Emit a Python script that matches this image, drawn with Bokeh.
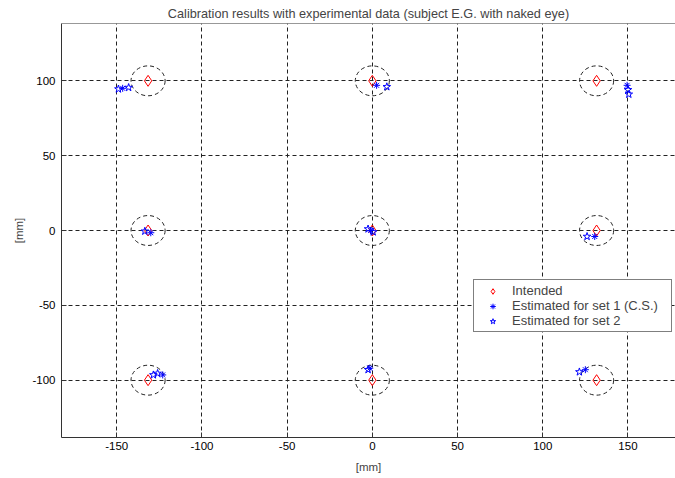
from bokeh.plotting import figure
from bokeh.models import Span, Legend, LegendItem, FixedTicker
from bokeh.embed import file_html
from bokeh.resources import INLINE

# ---- data ----
intended_x = [-131.6, 0.0, 131.6, -131.6, 0.0, 131.6, -131.6, 0.0, 131.6]
intended_y = [100, 100, 100, 0, 0, 0, -100, -100, -100]

set1_x = [-146.5, 2.5, 149.5, -130.0, -1.0, 130.5, -123.0, -1.5, 125.0]
set1_y = [95.0, 97.0, 97.0, -1.5, 0.0, -4.0, -96.5, -92.0, -93.0]

set2_x = [-149.0, -143.0, 8.5, 150.0, 150.5, -133.5, -2.5, 0.5, 126.0, -128.5, -126.0, -2.5, 121.5]
set2_y = [94.5, 95.5, 96.0, 94.0, 91.0, -0.5, 1.0, -1.0, -4.0, -96.5, -95.5, -93.0, -94.5]

x_ticks = [-150, -100, -50, 0, 50, 100, 150]
y_ticks = [-100, -50, 0, 50, 100]

FONT = "Liberation Sans"
AX = "#333333"

p = figure(width=675, height=478, x_range=(-182.4, 177.9), y_range=(-138.3, 138.3),
           output_backend="svg", toolbar_location=None,
           min_border_left=61, min_border_right=0, min_border_top=23, min_border_bottom=41,
           title="Calibration results with experimental data (subject E.G. with naked eye)")
p.title.align = "center"
p.title.vertical_align = "top"
p.title.text_font = FONT
p.title.text_font_size = "12.7px"
p.title.text_font_style = "normal"
p.title.standoff = 2
p.title.offset = 0
p.outline_line_color = None
p.background_fill_color = "white"
p.border_fill_color = "white"

p.xaxis.ticker = FixedTicker(ticks=x_ticks)
p.yaxis.ticker = FixedTicker(ticks=y_ticks)
p.xaxis.major_label_overrides = {t: str(t) for t in x_ticks}
p.yaxis.major_label_overrides = {t: str(t) for t in y_ticks}
for ax in (p.xaxis[0], p.yaxis[0]):
    ax.axis_line_color = AX
    ax.major_tick_line_color = AX
    ax.major_tick_in = 5
    ax.major_tick_out = 0
    ax.minor_tick_line_color = None
    ax.major_label_text_font = FONT
    ax.major_label_text_font_size = "11.5px"
    ax.major_label_text_color = "black"
    ax.axis_label = "[mm]"
    ax.axis_label_text_font = FONT
    ax.axis_label_text_font_size = "11.5px"
    ax.axis_label_text_font_style = "normal"
p.xaxis.major_label_standoff = 4
p.xaxis.axis_label_standoff = 8
p.yaxis.major_label_standoff = 6
p.yaxis.axis_label_standoff = 4

for g in (p.xgrid[0], p.ygrid[0]):
    g.grid_line_color = "#222222"
    g.grid_line_dash = "4 3"
    g.grid_line_width = 1
p.xgrid.ticker = FixedTicker(ticks=x_ticks)
p.ygrid.ticker = FixedTicker(ticks=y_ticks)

p.add_layout(Span(location=138.3, dimension="width", line_color=AX, line_width=1))

# dashed circles around targets
p.ellipse(x=intended_x, y=intended_y, width=20, height=20, fill_color=None,
          line_color="#222222", line_dash="4 3", line_width=1)

r1 = p.scatter(intended_x, intended_y, marker="diamond", size=11, fill_color=None,
               line_color="red", line_width=1)
r2 = p.scatter(set1_x, set1_y, marker="asterisk", size=7, line_color="blue", line_width=1)
r3 = p.scatter(set2_x, set2_y, marker="star", size=8, fill_color=None,
               line_color="blue", line_width=1)

legend = Legend(items=[LegendItem(label="Intended", renderers=[r1]),
                       LegendItem(label="Estimated for set 1 (C.S.)", renderers=[r2]),
                       LegendItem(label="Estimated for set 2", renderers=[r3])],
                location=(412, 105))
legend.border_line_color = "black"
legend.border_line_width = 1
legend.padding = 3
legend.spacing = 0
legend.glyph_width = 31
legend.glyph_height = 14
legend.label_height = 14
legend.label_standoff = 4
legend.label_width = 156
legend.margin = 0
legend.label_text_font = FONT
legend.label_text_font_size = "13px"
legend.background_fill_alpha = 1
p.add_layout(legend, "center")

open("out.html", "w").write(file_html(p, INLINE))
